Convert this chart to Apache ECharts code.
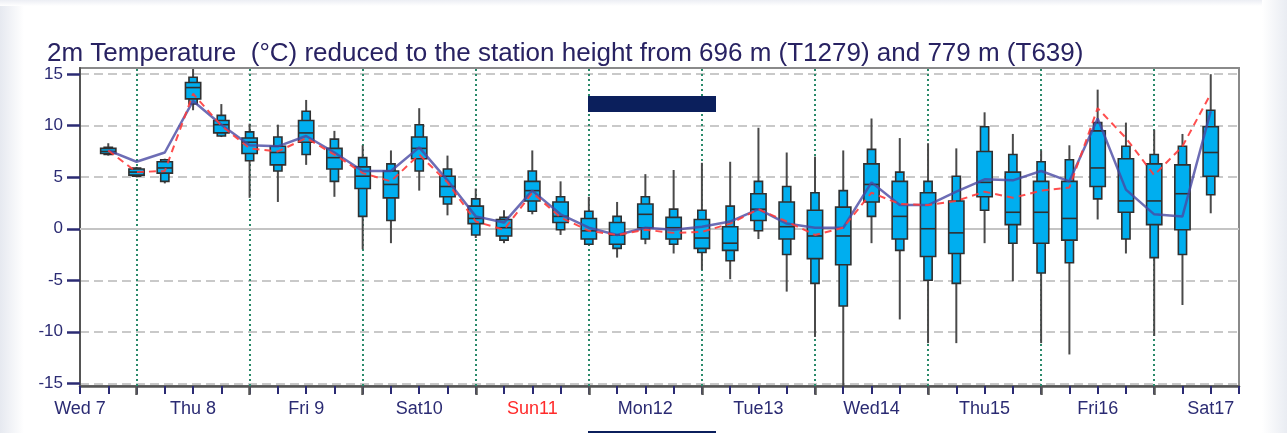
<!DOCTYPE html>
<html><head><meta charset="utf-8">
<script src="https://cdn.jsdelivr.net/npm/echarts@6/dist/echarts.min.js"></script>
<style>html,body{margin:0;padding:0;background:#fff}#c{width:1287px;height:433px}</style>
</head><body><div id="c"></div>
<script>
// 6-hourly forecast steps (x axis unit = 6 h, 0 = Wed 7 label)
const steps = [1,2,3,4,5,6,7,8,9,10,11,12,13,14,15,16,17,18,19,20,21,22,23,24,25,26,27,28,29,30,31,32,33,34,35,36,37,38,39,40];
const dayLabels = ['Wed 7','Thu 8','Fri 9','Sat10','Sun11','Mon12','Tue13','Wed14','Thu15','Fri16','Sat17'];
const dayLabelSteps = [0,4,8,12,16,20,24,28,32,36,40];
const dayBoundarySteps = [2,6,10,14,18,22,26,30,34,38];
const yTicks = [-15,-10,-5,0,5,10,15];

// ensemble distribution (°C)
const ensMin    = [7.1,5.0,4.4,11.5,8.9,3.0,2.6,6.2,3.1,-2.0,-1.4,3.7,1.3,-0.9,-1.4,1.4,-0.6,-1.6,-2.8,-1.5,-2.4,-4.0,-4.9,-1.0,-6.1,-10.5,-15.3,-1.4,-8.8,-11.1,-11.1,-1.4,-5.1,-11.1,-12.2,0.9,-2.4,-10.4,-7.4,1.5];
const ensP10    = [7.2,5.1,4.6,12.1,9.0,6.6,5.6,7.2,4.6,1.2,0.8,5.6,2.4,-0.6,-1.1,1.7,-0.1,-1.5,-1.9,-1.0,-1.5,-2.3,-3.1,-0.2,-2.5,-5.3,-7.5,1.2,-2.1,-5.0,-5.3,1.8,-1.4,-4.3,-3.3,2.9,-1.0,-2.8,-2.5,3.3];
const ensP25    = [7.3,5.2,5.4,12.6,9.3,7.3,6.2,8.4,5.8,3.9,3.0,6.8,3.1,0.5,-0.7,2.7,0.6,-1.0,-1.5,0.1,-1.0,-1.9,-2.1,0.8,-1.0,-2.9,-3.5,2.6,-1.0,-2.7,-2.4,3.1,0.4,-1.4,-1.1,4.1,1.6,0.4,-0.1,5.1];
const ensMedian = [7.5,5.5,5.9,13.7,10.1,8.4,7.4,9.3,6.9,5.1,4.3,7.8,4.1,1.0,0.1,3.7,1.2,-0.2,-0.6,1.4,0.1,-0.9,-1.4,1.9,0.2,-0.7,-0.7,4.3,1.2,0.0,-0.4,4.5,1.6,1.6,1.0,5.9,2.7,2.7,3.4,7.4];
const ensP75    = [7.8,5.8,6.5,14.2,10.5,8.8,8.0,10.5,7.8,6.0,5.6,8.9,5.1,2.2,0.9,4.6,2.6,1.0,0.6,2.4,1.1,0.9,0.2,3.4,2.6,1.8,2.1,6.3,4.6,3.5,2.7,7.5,5.5,4.6,4.6,9.5,6.8,6.3,6.2,9.9];
const ensP90    = [7.9,5.9,6.7,14.7,11.0,9.4,8.9,11.4,8.7,6.9,6.3,10.1,5.8,2.9,1.1,5.6,3.1,1.7,1.2,3.1,1.9,1.8,2.2,4.6,4.1,3.5,3.7,7.7,5.5,4.6,5.1,9.9,7.2,6.5,6.7,10.3,8.0,7.2,8.0,11.5];
const ensMax    = [8.3,6.0,6.8,15.5,12.1,10.2,10.1,12.5,9.5,8.1,7.6,11.7,7.1,3.9,1.8,7.6,4.6,3.1,2.6,5.3,5.7,6.4,6.5,9.8,7.4,7.0,7.6,10.7,8.8,8.3,7.8,11.3,9.2,7.6,8.1,13.5,10.3,9.6,9.2,15.0];

// deterministic T1279 (blue) and control T639 (red dashed)
const hresT1279 = [7.6,6.5,7.4,12.4,10.1,8.1,8.0,9.0,7.4,5.6,5.6,7.9,4.7,1.2,0.6,3.7,1.4,0.1,-0.6,0.1,-0.1,0.2,0.7,1.9,0.5,0.1,0.1,4.5,2.3,2.3,3.6,4.8,4.7,5.6,4.6,10.7,3.8,1.4,1.2,11.4];
const ctrlT639  = [7.6,5.5,5.6,13.1,10.0,7.8,7.5,8.8,7.2,5.4,4.6,7.2,4.5,0.7,-0.1,3.5,1.1,-0.2,-0.6,-0.1,-0.4,-0.3,0.5,1.9,0.7,-0.6,0.1,3.5,2.4,2.3,2.7,3.6,3.0,3.7,4.0,11.7,8.8,5.2,8.0,13.1];

const titleText = '2m Temperature  (°C) reduced to the station height from 696 m (T1279) and 779 m (T639)';

const FONT = 'Liberation Sans, Arial, sans-serif';
const NAVY = '#2b2b73';

const chart = echarts.init(document.getElementById('c'), null, {renderer: 'canvas'});
chart.setOption({
  animation: false,
  backgroundColor: '#ffffff',
  title: {
    text: titleText, left: 42, top: 36,
    textStyle: {fontSize: 26, fontWeight: 'normal', color: '#282262', fontFamily: FONT}
  },
  graphic: [
    {type: 'rect', silent: true, z: -10, shape: {x: 0, y: 0, width: 24, height: 433},
     style: {fill: new echarts.graphic.LinearGradient(0, 0, 1, 0, [{offset: 0, color: '#e6e9f0'}, {offset: 1, color: '#ffffff'}])}},
    {type: 'rect', silent: true, z: -10, shape: {x: 0, y: 0, width: 1287, height: 6},
     style: {fill: new echarts.graphic.LinearGradient(0, 0, 0, 1, [{offset: 0, color: '#eceef4'}, {offset: 1, color: '#ffffff'}])}},
    {type: 'rect', silent: true, z: -10, shape: {x: 1262, y: 0, width: 25, height: 433},
     style: {fill: new echarts.graphic.LinearGradient(0, 0, 1, 0, [{offset: 0, color: '#ffffff'}, {offset: 1, color: '#e9ecf2'}])}},
    {type: 'rect', silent: true, z: 100, shape: {x: 588, y: 96, width: 128, height: 16}, style: {fill: '#0b1f5c'}},
    {type: 'rect', silent: true, z: 100, shape: {x: 588, y: 431, width: 128, height: 2}, style: {fill: '#0b1f5c'}}
  ],
  grid: {left: 80, right: 48, top: 68, bottom: 47, containLabel: false, outerBoundsMode: 'none',
         show: true, borderColor: '#8a8a8a', borderWidth: 2, backgroundColor: 'transparent'},
  xAxis: [{
    type: 'value', min: 0, max: 41, interval: 1, position: 'bottom',
    axisLine: {show: true, onZero: false, lineStyle: {color: '#555', width: 2.5}},
    axisTick: {show: true, length: 8, lineStyle: {color: NAVY, width: 2}},
    axisLabel: {
      customValues: dayLabelSteps, margin: 14, fontSize: 18, color: NAVY, fontFamily: FONT,
      formatter: v => {
        const i = dayLabelSteps.indexOf(Math.round(v));
        if (i < 0) return '';
        return dayLabels[i].indexOf('Sun') === 0 ? '{sun|' + dayLabels[i] + '}' : dayLabels[i];
      },
      rich: {sun: {color: '#ff2a2a', fontSize: 18, fontFamily: FONT}}
    },
    splitLine: {show: false}
  }, {
    type: 'value', min: 0, max: 41, position: 'bottom', offset: 0,
    axisLine: {show: false, onZero: false},
    axisLabel: {show: false},
    splitLine: {show: false},
    axisTick: {show: true, customValues: dayBoundarySteps, length: 9, lineStyle: {color: '#555', width: 2.5}}
  }],
  yAxis: {
    type: 'value', min: -15.26, max: 15.6, splitNumber: 6,
    axisLine: {show: true, onZero: false, lineStyle: {color: '#555', width: 2}},
    axisTick: {show: true, customValues: yTicks, length: 13, lineStyle: {color: NAVY, width: 2.5}},
    axisLabel: {customValues: yTicks, margin: 17, fontSize: 17, color: NAVY, fontFamily: FONT},
    splitLine: {show: true, lineStyle: {color: '#c9c9c9', width: 2, type: [9, 5]}}
  },
  series: [
    {
      type: 'line', data: [], z: 1, silent: true,
      markLine: {
        z: 1, silent: true, symbol: 'none', label: {show: false}, animation: false,
        data: [
          ...dayBoundarySteps.map(s => ({xAxis: s, lineStyle: {color: '#2a8a6a', width: 2, type: [2, 3]}})),
          {yAxis: 0, lineStyle: {color: '#c4c4c4', width: 2, type: 'solid'}}
        ]
      }
    },
    {
      type: 'custom', z: 3, clip: false, silent: true,
      data: steps.map((s, i) => [s, ensMin[i], ensP10[i], ensP25[i], ensMedian[i], ensP75[i], ensP90[i], ensMax[i]]),
      encode: {x: 0, y: [1, 2, 3, 4, 5, 6, 7]},
      renderItem: function (params, api) {
        const x = api.value(0);
        const c = k => api.coord([x, api.value(k)]);
        const pMin = c(1), p10 = c(2), p25 = c(3), pMed = c(4), p75 = c(5), p90 = c(6), pMax = c(7);
        const step = api.size([1, 0])[0];
        const wW = step * 0.54, nW = step * 0.29;
        const cx = pMin[0];
        const stroke = '#303030', fill = '#00aeef';
        return {type: 'group', children: [
          {type: 'line', shape: {x1: cx, y1: pMax[1], x2: cx, y2: pMin[1]}, style: {stroke: '#4a4a4a', lineWidth: 2}},
          {type: 'rect', shape: {x: cx - nW / 2, y: p90[1], width: nW, height: p10[1] - p90[1]}, style: {fill: fill, stroke: stroke, lineWidth: 1.6}},
          {type: 'rect', shape: {x: cx - wW / 2, y: p75[1], width: wW, height: p25[1] - p75[1]}, style: {fill: fill, stroke: stroke, lineWidth: 1.6}},
          {type: 'line', shape: {x1: cx - wW / 2, y1: pMed[1], x2: cx + wW / 2, y2: pMed[1]}, style: {stroke: stroke, lineWidth: 1.6}}
        ]};
      }
    },
    {
      type: 'line', name: 'T1279', z: 4, silent: true, symbol: 'none',
      data: steps.map((s, i) => [s, hresT1279[i]]),
      lineStyle: {color: '#4848a2', width: 2.5, opacity: 0.8}
    },
    {
      type: 'line', name: 'T639', z: 5, silent: true, symbol: 'none',
      data: steps.map((s, i) => [s, ctrlT639[i]]),
      lineStyle: {color: '#ff3b3b', width: 2, type: [7, 5], opacity: 0.9}
    }
  ]
});
</script>
</body></html>
